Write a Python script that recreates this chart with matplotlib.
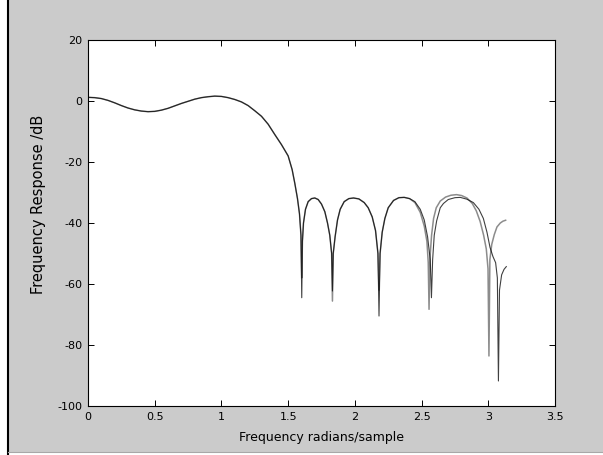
import matplotlib
matplotlib.use("Agg")
import matplotlib.pyplot as plt
from matplotlib.patches import Rectangle
from matplotlib.lines import Line2D
import numpy as np

# Passband and transition band, common to both responses
pass_freq = [0.00, 0.05, 0.10, 0.15, 0.20, 0.25, 0.30, 0.35, 0.40, 0.45,
             0.50, 0.55, 0.60, 0.65, 0.70, 0.75, 0.80, 0.85, 0.90, 0.95,
             1.00, 1.05, 1.10, 1.15, 1.20, 1.25, 1.30, 1.35, 1.40, 1.45,
             1.50, 1.53, 1.55, 1.57, 1.585, 1.596]
pass_db = [1.2, 1.1, 0.8, 0.2, -0.6, -1.5, -2.3, -2.9, -3.3, -3.5,
           -3.4, -3.0, -2.4, -1.6, -0.8, -0.1, 0.6, 1.1, 1.4, 1.6,
           1.5, 1.1, 0.5, -0.3, -1.5, -3.2, -5.0, -7.6, -11.0, -14.3,
           -18.0, -22.5, -27.0, -32.0, -37.0, -44.0]

# Stopband of the first response (black)
stop_freq_a = [1.602, 1.607, 1.615, 1.63, 1.65, 1.675, 1.70, 1.725, 1.75, 1.775,
               1.795, 1.812, 1.826, 1.832, 1.838, 1.852, 1.87, 1.89, 1.92, 1.955,
               1.99, 2.03, 2.07, 2.10, 2.13, 2.155, 2.173, 2.181, 2.189, 2.205,
               2.225, 2.25, 2.29, 2.33, 2.37, 2.41, 2.45, 2.49, 2.52, 2.545,
               2.565, 2.574, 2.583, 2.595, 2.613, 2.64, 2.664, 2.70, 2.75, 2.79,
               2.84, 2.888, 2.93, 2.963, 2.99, 3.013, 3.035, 3.055, 3.068, 3.076,
               3.084, 3.10, 3.118, 3.135]
stop_db_a = [-64.5, -46.0, -40.0, -35.5, -33.0, -32.0, -31.8, -32.3, -33.8, -36.3,
             -40.0, -44.0, -50.0, -62.3, -50.0, -44.5, -39.0, -35.5, -33.0, -32.0,
             -31.8, -32.1, -33.3, -35.0, -38.0, -42.5, -50.0, -70.5, -50.0, -43.0,
             -38.5, -35.0, -32.6, -31.7, -31.6, -32.0, -33.0, -35.5, -39.0, -44.5,
             -52.0, -64.5, -52.0, -44.0, -39.3, -35.0, -33.6, -32.3, -31.7, -31.6,
             -32.2, -33.3, -35.5, -38.5, -43.0, -48.0, -51.0, -53.0, -58.0, -91.8,
             -62.0, -57.0, -55.2, -54.3]

# Stopband of the second response (grey)
stop_freq_b = [1.602, 1.607, 1.615, 1.63, 1.65, 1.675, 1.70, 1.725, 1.75, 1.775,
               1.795, 1.812, 1.826, 1.832, 1.838, 1.852, 1.87, 1.89, 1.92, 1.955,
               1.99, 2.03, 2.07, 2.10, 2.13, 2.155, 2.173, 2.181, 2.189, 2.205,
               2.225, 2.25, 2.29, 2.33, 2.37, 2.41, 2.45, 2.49, 2.52, 2.54,
               2.55, 2.556, 2.562, 2.575, 2.59, 2.61, 2.64, 2.68, 2.72, 2.762,
               2.80, 2.84, 2.88, 2.91, 2.939, 2.965, 2.985, 2.998, 3.005, 3.012,
               3.026, 3.045, 3.065, 3.09, 3.11, 3.13]
stop_db_b = [-58.0, -46.0, -40.0, -35.5, -33.0, -32.0, -31.8, -32.3, -33.8, -36.3,
             -40.0, -44.0, -50.0, -65.6, -50.0, -44.5, -39.0, -35.5, -33.0, -32.0,
             -31.8, -32.1, -33.3, -35.0, -38.0, -42.5, -50.0, -62.0, -50.0, -43.0,
             -38.5, -35.0, -32.6, -31.7, -31.6, -32.0, -33.3, -36.5, -41.0, -46.0,
             -53.0, -68.3, -52.0, -44.0, -38.5, -35.0, -32.8, -31.5, -30.9, -30.7,
             -31.0, -31.8, -33.6, -36.0, -39.5, -44.0, -48.5, -55.0, -83.6, -52.0,
             -47.0, -43.8, -41.3, -40.0, -39.4, -39.1]

x_ticks = [0, 0.5, 1, 1.5, 2, 2.5, 3, 3.5]
x_tick_labels = ["0", "0.5", "1", "1.5", "2", "2.5", "3", "3.5"]
y_ticks = [-100, -80, -60, -40, -20, 0, 20]
y_tick_labels = ["-100", "-80", "-60", "-40", "-20", "0", "20"]

W, H = 603, 455
fig = plt.figure(figsize=(W / 100, H / 100), dpi=100, facecolor="#cbcbcb")
plt.rcParams["font.family"] = ["DejaVu Sans"]

left, right, top, bottom = 88, 555, 40, 406
ax = fig.add_axes([left / W, 1 - bottom / H, (right - left) / W, (bottom - top) / H])
ax.set_facecolor("white")

freq_a = np.concatenate([pass_freq, stop_freq_a])
db_a = np.concatenate([pass_db, stop_db_a])
freq_b = np.concatenate([pass_freq, stop_freq_b])
db_b = np.concatenate([pass_db, stop_db_b])

ax.plot(freq_b, db_b, color="#8c8c8c", lw=1.1, solid_joinstyle="round")
ax.plot(freq_a, db_a, color="#000000", lw=0.8, alpha=0.75, solid_joinstyle="round")

ax.set_xlim(0, 3.5)
ax.set_ylim(-100, 20)
ax.set_xticks(x_ticks)
ax.set_xticklabels(x_tick_labels)
ax.set_yticks(y_ticks)
ax.set_yticklabels(y_tick_labels)
ax.tick_params(direction="in", top=True, right=True, length=4, width=0.7,
               labelsize=8, pad=4, colors="black")
for s in ax.spines.values():
    s.set_linewidth(0.8)
    s.set_color("black")

ax.set_xlabel("Frequency radians/sample", fontsize=9)
ax.set_ylabel("Frequency Response /dB", fontsize=10.5)
ax.xaxis.set_label_coords(0.5, -0.068)
ax.yaxis.set_label_coords(-0.09, 0.55)

# Window frame: white margin and dark edge on the left, light edge at the bottom
fig.patches.append(Rectangle((0, 0), 7 / W, 1, transform=fig.transFigure,
                             facecolor="white", edgecolor="none", zorder=0))
fig.lines.append(Line2D([8 / W, 8 / W], [0, 1], transform=fig.transFigure,
                        color="black", lw=1.5))
fig.patches.append(Rectangle((0, 0), 1, 2.5 / H, transform=fig.transFigure,
                             facecolor="white", edgecolor="none"))
fig.lines.append(Line2D([8 / W, 1], [3 / H, 3 / H], transform=fig.transFigure,
                        color="#a8a8a8", lw=0.8))

fig.savefig("out.png", dpi=100, facecolor=fig.get_facecolor())
